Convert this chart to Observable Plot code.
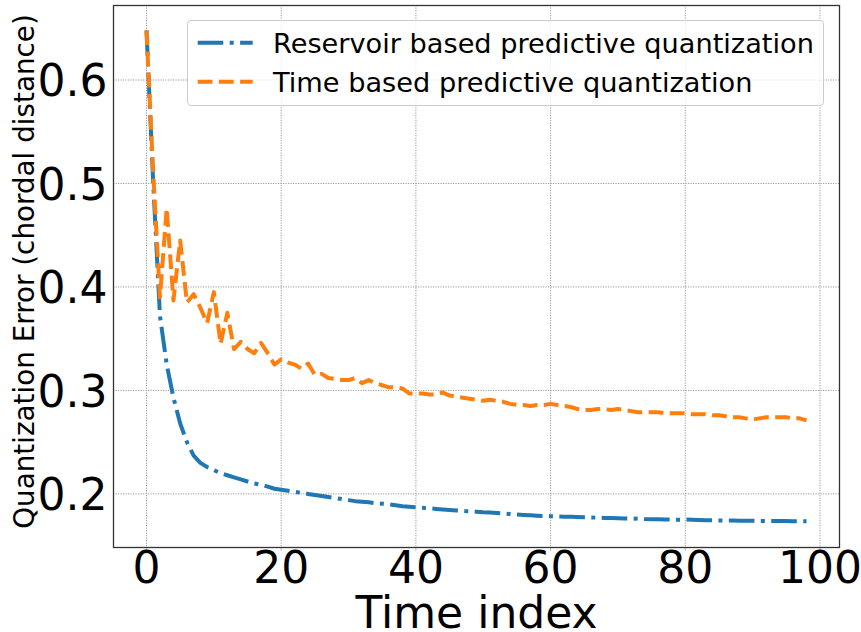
<!DOCTYPE html>
<html>
<head>
<meta charset="utf-8">
<script src="https://cdn.jsdelivr.net/npm/d3@7"></script>
<script src="https://cdn.jsdelivr.net/npm/@observablehq/plot@0.6"></script>
<style>
  body { margin: 0; background: #fff; font-family: "DejaVu Sans", sans-serif; }
  #wrap { position: relative; width: 861px; height: 632px; }
  #legend {
    position: absolute; left: 187px; top: 20px; width: 637px; height: 86px;
    border: 1px solid #cccccc; border-radius: 4px; background: rgba(255,255,255,0.8);
    box-sizing: border-box;
  }
  #legend svg { position: absolute; left: 0; top: 0; }
</style>
</head>
<body>
<div id="wrap"><div id="legend"></div></div>
<script>
const seriesNames = ["Reservoir based predictive quantization", "Time based predictive quantization"];
const seriesColors = ["#1f77b4", "#ff7f0e"];
const xTicks = [0, 20, 40, 60, 80, 100];
const yTicks = [0.2, 0.3, 0.4, 0.5, 0.6];

const reservoir = [
  0.648, 0.500, 0.372, 0.325, 0.293, 0.268, 0.250, 0.237, 0.230, 0.226,
  0.223, 0.220, 0.218, 0.216, 0.214, 0.212, 0.210, 0.209, 0.207, 0.205,
  0.204, 0.203, 0.202, 0.201, 0.200, 0.199, 0.198, 0.197, 0.196, 0.195,
  0.194, 0.193, 0.1925, 0.192, 0.191, 0.1905, 0.190, 0.189, 0.188, 0.1875,
  0.187, 0.1865, 0.186, 0.1855, 0.185, 0.1845, 0.184, 0.1835, 0.183, 0.1828,
  0.1823, 0.182, 0.1815, 0.181, 0.1805, 0.180, 0.1797, 0.1794, 0.179, 0.1787,
  0.1785, 0.1782, 0.178, 0.1778, 0.1776, 0.1774, 0.1772, 0.177, 0.1768, 0.1766,
  0.1764, 0.1762, 0.176, 0.1762, 0.1758, 0.1756, 0.1755, 0.1753, 0.1751, 0.175,
  0.1752, 0.1749, 0.1747, 0.1746, 0.1745, 0.1744, 0.1743, 0.1742, 0.1741, 0.174,
  0.174, 0.1739, 0.1738, 0.1738, 0.1737, 0.1737, 0.1736, 0.1736, 0.1736
];

const timeBased = [
  0.648, 0.510, 0.390, 0.476, 0.387, 0.445, 0.385, 0.393, 0.380, 0.365,
  0.395, 0.345, 0.375, 0.340, 0.347, 0.340, 0.336, 0.346, 0.336, 0.325,
  0.330, 0.327, 0.325, 0.321, 0.326, 0.315, 0.316, 0.312, 0.311, 0.310,
  0.310, 0.312, 0.307, 0.310, 0.307, 0.305, 0.303, 0.303, 0.302, 0.297,
  0.297, 0.297, 0.296, 0.296, 0.298, 0.295, 0.294, 0.293, 0.292, 0.291,
  0.290, 0.291, 0.290, 0.289, 0.287, 0.286, 0.286, 0.285, 0.286, 0.286,
  0.287, 0.286, 0.285, 0.284, 0.282, 0.281, 0.281, 0.282, 0.282, 0.281,
  0.282, 0.281, 0.280, 0.279, 0.279, 0.279, 0.279, 0.278, 0.278, 0.278,
  0.278, 0.277, 0.277, 0.277, 0.276, 0.276, 0.275, 0.274, 0.274, 0.273,
  0.272, 0.273, 0.274, 0.274, 0.274, 0.274, 0.273, 0.273, 0.271
];

const dashes = ["25.6,6.4,4,6.4", "14.8,6.4"];
const font = "DejaVu Sans";

const chart = Plot.plot({
  width: 861,
  height: 632,
  marginLeft: 113,
  marginRight: 22,
  marginTop: 5,
  marginBottom: 85,
  style: { fontFamily: font, color: "#000", background: "#fff" },
  x: { domain: [-4.9, 102.9] },
  y: { domain: [0.1482, 0.672] },
  marks: [
    Plot.gridX(xTicks, { stroke: "#999", strokeOpacity: 1, strokeWidth: 1, strokeDasharray: "1.2,1.3" }),
    Plot.gridY(yTicks, { stroke: "#999", strokeOpacity: 1, strokeWidth: 1, strokeDasharray: "1.2,1.3" }),
    Plot.axisX(xTicks, { fontSize: 44, tickSize: 4, tickPadding: 0, stroke: "#bbb", label: null, tickFormat: d => String(d) }),
    Plot.axisY(yTicks, { fontSize: 44, tickSize: 0, tickPadding: 6, dy: 2, label: null, tickFormat: d => d.toFixed(1) }),
    Plot.line(reservoir, { x: (d, i) => i, y: d => d, stroke: seriesColors[0], strokeWidth: 4, strokeDasharray: dashes[0], strokeLinecap: "butt", strokeLinejoin: "round" }),
    Plot.line(timeBased, { x: (d, i) => i, y: d => d, stroke: seriesColors[1], strokeWidth: 4, strokeDasharray: dashes[1], strokeLinecap: "butt", strokeLinejoin: "round" }),
    Plot.frame({ stroke: "#333", strokeWidth: 1.3 }),
    Plot.text(["Time index"], { frameAnchor: "bottom", text: d => d, fontSize: 44, lineAnchor: "bottom", textAnchor: "middle", dy: 80, fill: "#000" }),
    Plot.text(["Quantization Error (chordal distance)"], { frameAnchor: "left", text: d => d, fontSize: 27.8, rotate: -90, textAnchor: "middle", lineAnchor: "bottom", dx: -80, dy: -5, fill: "#000" })
  ]
});
document.getElementById("wrap").prepend(chart);

// legend
const leg = d3.select("#legend").append("svg").attr("width", 637).attr("height", 86);
seriesNames.forEach((name, i) => {
  const cy = 21.7 + i * 39;
  leg.append("line").attr("x1", 9.7).attr("x2", 64.7).attr("y1", cy).attr("y2", cy)
    .attr("stroke", seriesColors[i]).attr("stroke-width", 4).attr("stroke-dasharray", dashes[i]);
  leg.append("text").attr("x", 85).attr("y", 31.7 + i * 39).attr("font-family", font).attr("font-size", 27.2)
    .attr("fill", "#000").text(name);
});
</script>
</body>
</html>
